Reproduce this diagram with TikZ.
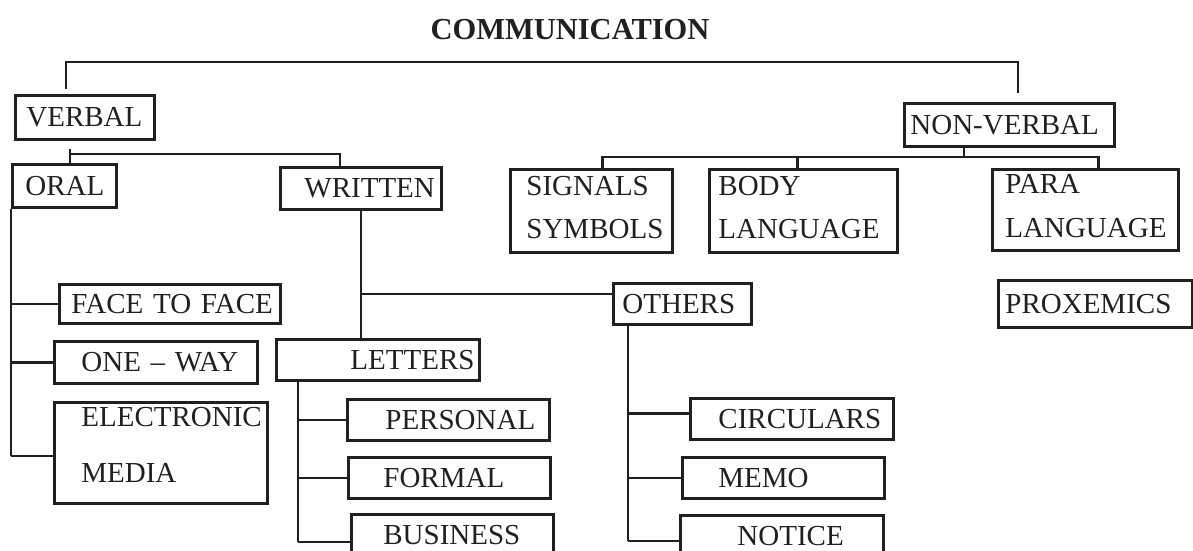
\documentclass[tikz,border=0pt]{standalone}
\usepackage{fontspec}
\setmainfont{Liberation Serif}
\usepackage{tikz}
\usetikzlibrary{positioning, calc}
\definecolor{ink}{RGB}{35,31,32}
\tikzset{
    box/.style={draw=ink, text=ink, line width=2.8pt, anchor=north west, inner ysep=0pt, align=left, font=\fontsize{29}{34}\selectfont},
    link/.style={draw=ink, line width=2.8pt},
}

\begin{document}
\begin{tikzpicture}[x=1pt, y=-1pt]
    \useasboundingbox (0,0) rectangle (1193,550);
    \clip (0,0) rectangle (1193,550);

    \node[text=ink, anchor=base, inner sep=0pt, font=\bfseries\fontsize{30.5}{36}\selectfont] (title) at (570,39) {COMMUNICATION};

    \node[box, minimum width=139pt, minimum height=44pt, inner xsep=11pt, text width=117pt] (verbal) at (14,94) {VERBAL};
    \node[box, minimum width=210pt, minimum height=43pt, inner xsep=6pt, text width=198pt] (nonverbal) at (903,102) {NON-VERBAL};

    \node[box, minimum width=104pt, minimum height=43pt, inner xsep=13pt, text width=78pt] (oral) at (11,163) {ORAL};
    \node[box, minimum width=161pt, minimum height=42pt, inner xsep=24pt, text width=113pt] (written) at (279,166) {WRITTEN};

    \node[box, minimum width=221pt, minimum height=39pt, inner xsep=12pt, text width=197pt] (face) at (58,283) {\mbox{FACE TO FACE}};
    \node[box, minimum width=203pt, minimum height=42pt, inner xsep=27pt, text width=149pt] (oneway) at (53,340) {\mbox{ONE -- WAY}};
    \node[box, minimum width=213pt, minimum height=101pt, inner xsep=27pt, text width=159pt, font=\fontsize{29}{56}\selectfont] (emedia) at (53,401) {ELECTRONIC\\MEDIA\par\vspace*{15pt}};

    \node[box, minimum width=203pt, minimum height=41pt, inner xsep=74pt, text width=55pt] (letters) at (275,338) {LETTERS};
    \node[box, minimum width=202pt, minimum height=41pt, inner xsep=38pt, text width=126pt] (personal) at (346,398) {PERSONAL};
    \node[box, minimum width=202pt, minimum height=41pt, inner xsep=35pt, text width=132pt] (formal) at (347,456) {FORMAL};
    \node[box, minimum width=202pt, minimum height=41pt, inner xsep=32pt, text width=138pt] (business) at (350,513) {BUSINESS};

    \node[box, minimum width=138pt, minimum height=41pt, inner xsep=9pt, text width=120pt] (others) at (612,282) {OTHERS};
    \node[box, minimum width=203pt, minimum height=41pt, inner xsep=28pt, text width=147pt] (circulars) at (689,397) {CIRCULARS};
    \node[box, minimum width=202pt, minimum height=41pt, inner xsep=36pt, text width=130pt] (memo) at (681,456) {MEMO};
    \node[box, minimum width=203pt, minimum height=41pt, inner xsep=57pt, text width=89pt] (notice) at (679,514) {NOTICE};

    \node[box, minimum width=162pt, minimum height=83pt, inner xsep=16pt, text width=130pt, font=\fontsize{29}{43}\selectfont] (signals) at (509,168) {SIGNALS\\SYMBOLS\par\vspace*{7pt}};
    \node[box, minimum width=188pt, minimum height=83pt, inner xsep=9pt, text width=170pt, font=\fontsize{29}{43}\selectfont] (body) at (708,168) {BODY\\LANGUAGE\par\vspace*{7pt}};
    \node[box, minimum width=186pt, minimum height=81pt, inner xsep=13pt, text width=160pt, font=\fontsize{29}{44}\selectfont] (para) at (991,168) {PARA\\LANGUAGE\par\vspace*{7pt}};
    \node[box, minimum width=194pt, minimum height=47pt, inner xsep=7pt, text width=180pt] (proxemics) at (997,279) {PROXEMICS};

    \coordinate (top) at (570,62);
    \coordinate (vin) at (66,89);
    \coordinate (nin) at (1018,93);
    \draw[link] (vin) |- (top) -| (nin);

    \coordinate (vbar) at (70,154);
    \coordinate (wjoin) at (340,154);
    \draw[link] ([yshift=-8pt]verbal.south -| vbar) -- (oral.north -| vbar);
    \draw[link] (vbar) -- (wjoin) -- (written.north -| wjoin);

    \coordinate (oend) at (11,456);
    \draw[link] (oral.south west) -- (oend);
    \draw[link] (oral.south west |- face.west) -- (face.west);
    \draw[link] (oral.south west |- oneway.west) -- (oneway.west);
    \draw[link] (oend) -- (oend -| emedia.west);

    \coordinate (wbar) at (358,294);
    \draw[link] (written.south) -- (written.south |- letters.north);
    \draw[link] (written.south |- wbar) -- (others.west |- wbar);

    \coordinate (lbot) at (298,542);
    \draw[link] (letters.south -| lbot) -- (lbot);
    \draw[link] (lbot |- personal.west) -- (personal.west);
    \draw[link] (lbot |- formal.west) -- (formal.west);
    \draw[link] (lbot) -- (lbot -| business.west);

    \coordinate (obot) at (628,541);
    \path (circulars.west) ++(0,-5.5) coordinate (cbr);
    \draw[link] (others.south -| obot) -- (obot);
    \draw[link] (obot |- cbr) -- (cbr);
    \draw[link] (obot |- memo.west) -- (memo.west);
    \draw[link] (obot) -- (obot -| notice.west);

    \coordinate (nbar) at (964,157);
    \draw[link] (nonverbal.south -| nbar) -- (nbar);
    \draw[link] ([xshift=11pt]signals.north) |- (nbar) -| ([xshift=13pt]para.north);
    \draw[link] ([xshift=-6pt]body.north) -- ([xshift=-6pt]body.north |- nbar);
\end{tikzpicture}
\end{document}
